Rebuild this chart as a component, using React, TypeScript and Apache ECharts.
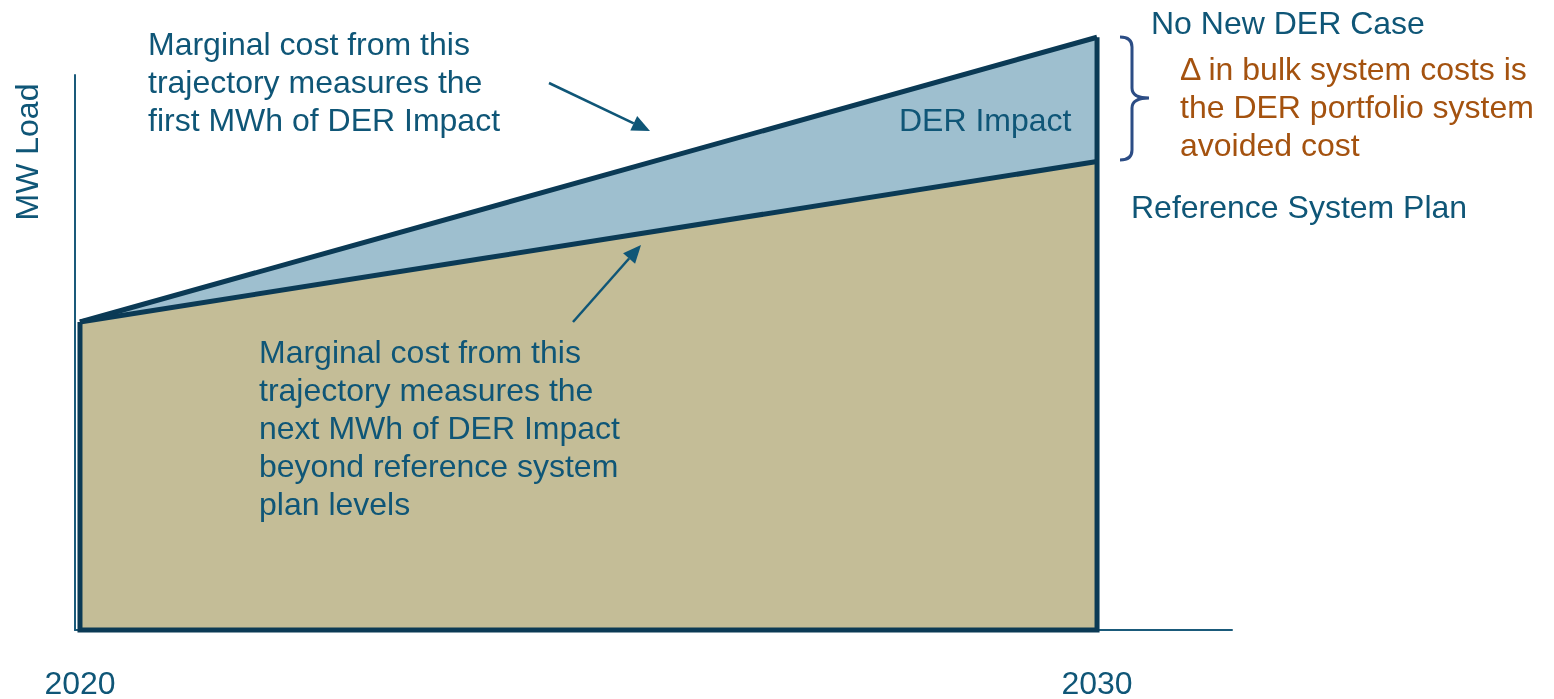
import React, { useEffect, useRef } from "react";
import * as echarts from "echarts";

const years = [2020, 2030];
const noNewDerCase = [55.5, 106.8];
const referencePlan = [55.5, 84.4];
const tickLabels = ["2020", "2030"];

const TEXT = "#0f5677";
const DARK = "#0b3a55";
const ORANGE = "#a4520f";
const FONT = "'Liberation Sans', Arial, sans-serif";

const bracketPath =
  "M1120,37 Q1132,37 1132,47 L1132,88 Q1132,98 1149,98 Q1132,98 1132,108 L1132,150 Q1132,160 1120,160";

export default function App() {
  const ref = useRef<HTMLDivElement>(null);
  useEffect(() => {
    if (!ref.current) return;
    echarts.graphic.registerShape("bracket", echarts.graphic.extendPath(bracketPath, {}));
    const chart = echarts.init(ref.current, undefined, { renderer: "svg" });
    const fs = 32;
    const LH = 38;
    const textStyle = (x: number, yc: number, t: string, color = TEXT) => ({
      type: "text",
      x,
      y: yc - LH / 2,
      z: 100,
      style: { text: t, fill: color, font: `${fs}px ${FONT}`, lineHeight: LH, textVerticalAlign: "top" },
    });
    const arrow = (x1: number, y1: number, x2: number, y2: number) => {
      const ang = Math.atan2(y2 - y1, x2 - x1);
      const L = 18, W = 8;
      const bx = x2 - L * Math.cos(ang), by = y2 - L * Math.sin(ang);
      const px = -Math.sin(ang), py = Math.cos(ang);
      return [
        { type: "line", z: 100, shape: { x1, y1, x2: bx, y2: by }, style: { stroke: TEXT, lineWidth: 2.5 } },
        {
          type: "polygon",
          z: 100,
          shape: { points: [[x2, y2], [bx + px * W, by + py * W], [bx - px * W, by - py * W]] },
          style: { fill: TEXT },
        },
      ];
    };
    chart.setOption({
      animation: false,
      grid: { left: 75, right: 322, top: 75, bottom: 66 },
      xAxis: {
        type: "value",
        min: 2019.951,
        max: 2031.327,
        axisLine: { show: true, lineStyle: { color: "#1a5a7a", width: 2 } },
        axisTick: { show: false },
        splitLine: { show: false },
        axisLabel: {
          customValues: years,
          formatter: (v: number) => tickLabels[years.indexOf(v)] ?? "",
          color: TEXT,
          fontSize: fs,
          fontFamily: FONT,
          margin: 37,
        },
      },
      yAxis: {
        type: "value",
        min: 0,
        max: 100,
        axisLine: { show: true, lineStyle: { color: "#1a5a7a", width: 2 } },
        axisTick: { show: false },
        axisLabel: { show: false },
        splitLine: { show: false },
      },
      series: [
        {
          type: "line",
          clip: false,
          symbol: "none",
          data: years.map((y, i) => [y, noNewDerCase[i]]),
          lineStyle: { color: DARK, width: 5 },
          areaStyle: { color: "#9ebfcf", opacity: 1 },
          z: 2,
        },
        {
          type: "line",
          clip: false,
          symbol: "none",
          data: years.map((y, i) => [y, referencePlan[i]]),
          lineStyle: { color: DARK, width: 5 },
          areaStyle: { color: "#c4bd97", opacity: 1 },
          z: 3,
        },
        {
          type: "line",
          clip: false,
          symbol: "none",
          data: [
            [years[0], noNewDerCase[0]],
            [years[0], 0],
            [years[1], 0],
            [years[1], noNewDerCase[1]],
          ],
          lineStyle: { color: DARK, width: 5, join: "miter" },
          z: 4,
        },
      ],
      graphic: [
        textStyle(148, 44, "Marginal cost from this\ntrajectory measures the\nfirst MWh of DER Impact"),
        textStyle(259, 352, "Marginal cost from this\ntrajectory measures the\nnext MWh of DER Impact\nbeyond reference system\nplan levels"),
        textStyle(899, 120, "DER Impact"),
        textStyle(1151, 23, "No New DER Case"),
        textStyle(1180, 69, "Δ in bulk system costs is\nthe DER portfolio system\navoided cost", ORANGE),
        textStyle(1131, 207, "Reference System Plan"),
        {
          type: "text",
          x: 27,
          y: 152,
          z: 100,
          rotation: Math.PI / 2,
          style: { text: "MW Load", fill: TEXT, font: `${fs}px ${FONT}`, textAlign: "center", textVerticalAlign: "middle" },
        },
        { type: "bracket", z: 100, style: { stroke: "#2c4d85", lineWidth: 3, fill: "none" } },
        ...arrow(549, 83, 650, 131),
        ...arrow(573, 322, 641, 245),
      ],
    });
    return () => chart.dispose();
  }, []);
  return <div ref={ref} style={{ position: "fixed", left: 0, top: 0, width: 1554, height: 699 }} />;
}
